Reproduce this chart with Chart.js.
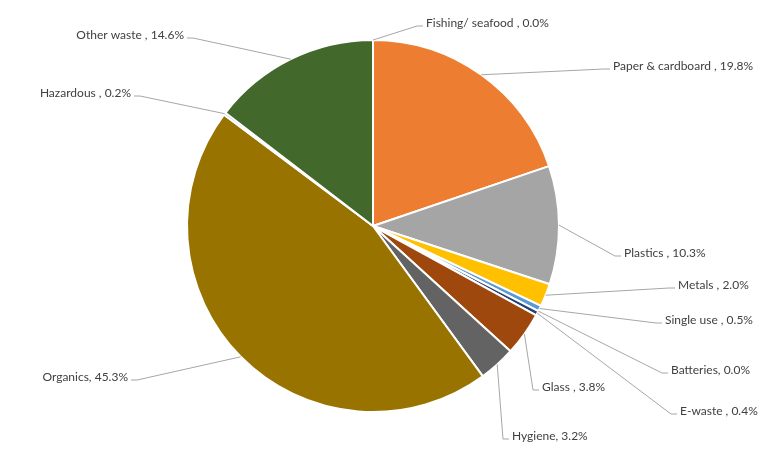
<!DOCTYPE html>
<html>
<head>
<meta charset="utf-8">
<script src="https://cdn.jsdelivr.net/npm/chart.js@4.4.0/dist/chart.umd.min.js"></script>
<style>
  html, body { margin: 0; background: #fff; }
  #wrap { width: 760px; height: 450px; }
</style>
</head>
<body>
<div id="wrap"><canvas id="wastePie"></canvas></div>
<script>
// waste composition by category (%), clockwise from 12 o'clock
const categories = [
  "Fishing/ seafood ", "Paper & cardboard ", "Plastics ", "Metals ", "Single use ",
  "Batteries", "E-waste ", "Glass ", "Hygiene", "Organics", "Hazardous ", "Other waste "
];
const shares = [0.0, 19.8, 10.3, 2.0, 0.5, 0.0, 0.4, 3.8, 3.2, 45.3, 0.2, 14.6];
const sliceColors = [
  "#4472C4", "#ED7D31", "#A5A5A5", "#FFC000", "#5B9BD5", "#70AD47",
  "#264478", "#9E480E", "#636363", "#997300", "#255E91", "#43682B"
];

// where each outside label sits: [x, y, side]  side 1 = text to the right, -1 = to the left
const labelAnchors = [
  [426, 23, 1], [613, 66, 1], [624, 253, 1], [678, 285, 1], [665, 320, 1], [671, 370, 1],
  [680, 411, 1], [542, 387, 1], [512, 436, 1], [128, 377, -1], [131, 93, -1], [184, 35, -1]
];

const leaderLabels = {
  id: "leaderLabels",
  afterDatasetsDraw(chart) {
    const { ctx } = chart;
    const arcs = chart.getDatasetMeta(0).data;
    ctx.save();
    ctx.font = "12px Lato, 'Open Sans', sans-serif";
    ctx.textBaseline = "middle";
    arcs.forEach((arc, i) => {
      const [tx, ty, side] = labelAnchors[i];
      const mid = (arc.startAngle + arc.endAngle) / 2;
      const sx = arc.x + Math.cos(mid) * arc.outerRadius;
      const sy = arc.y + Math.sin(mid) * arc.outerRadius;
      ctx.strokeStyle = "#A6A6A6";
      ctx.lineWidth = 1;
      ctx.beginPath();
      ctx.moveTo(sx, sy);
      ctx.lineTo(tx - 9 * side, ty + 3);
      ctx.lineTo(tx - 3 * side, ty + 3);
      ctx.stroke();
      ctx.fillStyle = "#404040";
      ctx.textAlign = side > 0 ? "left" : "right";
      ctx.fillText(`${categories[i]}, ${shares[i].toFixed(1)}%`, tx, ty);
    });
    ctx.restore();
  }
};

new Chart(document.getElementById("wastePie"), {
  type: "pie",
  data: {
    labels: categories,
    datasets: [{
      data: shares,
      backgroundColor: sliceColors,
      borderColor: "#fff",
      borderWidth: 2,
      radius: 186,
    }],
  },
  options: {
    responsive: true,
    maintainAspectRatio: false,
    animation: false,
    layout: { padding: { top: 40, bottom: 38, left: 0, right: 14 } },
    plugins: {
      legend: { display: false },
      tooltip: { enabled: false },
    },
  },
  plugins: [leaderLabels],
});
</script>
</body>
</html>
